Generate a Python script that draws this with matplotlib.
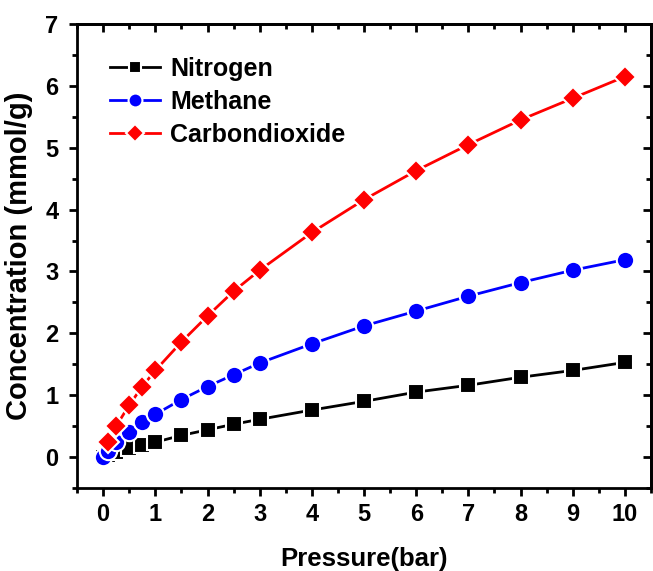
import matplotlib
matplotlib.use("Agg")
import matplotlib.pyplot as plt
from matplotlib.ticker import MultipleLocator

plt.rcParams['font.family'] = ['Liberation Sans', 'DejaVu Sans']
plt.rcParams['font.weight'] = 'bold'

pressure = [0, 0.1, 0.25, 0.5, 0.75, 1, 1.5, 2, 2.5, 3, 4, 5, 6, 7, 8, 9, 10]
nitrogen = [0, 0.03, 0.08, 0.14, 0.20, 0.24, 0.35, 0.44, 0.53, 0.61, 0.76, 0.90, 1.05, 1.16, 1.29, 1.40, 1.53]
methane = [0, 0.10, 0.24, 0.41, 0.56, 0.69, 0.93, 1.14, 1.33, 1.52, 1.83, 2.12, 2.36, 2.60, 2.82, 3.02, 3.19]
co2_pressure = [0.1, 0.25, 0.5, 0.75, 1, 1.5, 2, 2.5, 3, 4, 5, 6, 7, 8, 9, 10]
co2 = [0.24, 0.50, 0.84, 1.14, 1.40, 1.86, 2.28, 2.68, 3.02, 3.63, 4.16, 4.63, 5.05, 5.45, 5.80, 6.15]

fig = plt.figure(figsize=(6.53, 5.71), dpi=100)
ax = fig.add_axes([0.118, 0.1454, 0.879, 0.8126])

common = dict(linewidth=2.0, markeredgecolor='white', markeredgewidth=1.5)
ax.plot(pressure, nitrogen, color='black', marker='s', markersize=11, label='Nitrogen', **common)
ax.plot(pressure, methane, color='blue', marker='o', markersize=12.5, label='Methane', **common)
ax.plot(co2_pressure, co2, color='red', marker='D', markersize=11, label='Carbondioxide', **common)

ax.set_xlim(-0.5, 10.5)
ax.set_ylim(-0.5, 7)
ax.xaxis.set_major_locator(MultipleLocator(1))
ax.xaxis.set_minor_locator(MultipleLocator(0.5))
ax.yaxis.set_major_locator(MultipleLocator(1))
ax.yaxis.set_minor_locator(MultipleLocator(0.5))

for s in ax.spines.values():
    s.set_linewidth(2.0)

ax.tick_params(axis='both', which='major', direction='out', length=6, width=2, labelsize=17)
ax.tick_params(axis='x', which='major', pad=5)
ax.tick_params(axis='y', which='major', pad=7.5)
ax.tick_params(axis='both', which='minor', direction='out', length=3.5, width=2)
ax.tick_params(axis='both', which='both', top=False, right=False)

# mirrored inward ticks on top and right
axt = ax.secondary_xaxis('top')
axt.xaxis.set_major_locator(MultipleLocator(1))
axt.xaxis.set_minor_locator(MultipleLocator(0.5))
axt.tick_params(which='major', direction='in', length=6, width=2, labeltop=False)
axt.tick_params(which='minor', direction='in', length=3.5, width=2)
axt.spines['top'].set_linewidth(2.0)
axr = ax.secondary_yaxis('right')
axr.yaxis.set_major_locator(MultipleLocator(1))
axr.yaxis.set_minor_locator(MultipleLocator(0.5))
axr.tick_params(which='major', direction='in', length=6, width=2, labelright=False)
axr.tick_params(which='minor', direction='in', length=3.5, width=2)
axr.spines['right'].set_linewidth(2.0)

for lbl in ax.get_xticklabels() + ax.get_yticklabels():
    lbl.set_fontweight('bold')

ax.set_xlabel('Pressure(bar)', fontsize=18.5, fontweight='bold', labelpad=15)
ax.set_ylabel('Concentration (mmol/g)', fontsize=21, fontweight='bold', labelpad=9)

leg = ax.legend(loc='upper left', bbox_to_anchor=(0.04, 0.95), frameon=False,
                prop={'size': 18, 'weight': 'bold'}, handlelength=2.0,
                handletextpad=0.4, labelspacing=0.36, borderaxespad=0,
                markerscale=0.8)

fig.savefig('out.png', dpi=100)
